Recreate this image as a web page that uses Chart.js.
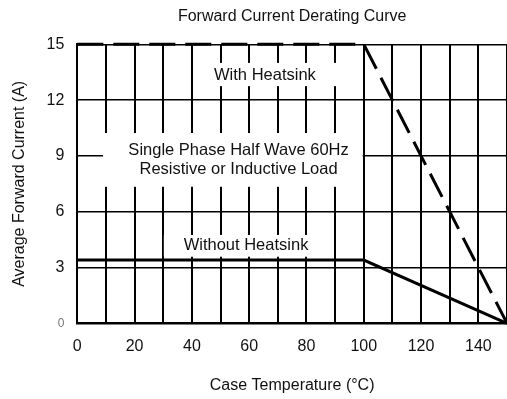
<!DOCTYPE html>
<html>
<head>
<meta charset="utf-8">
<script src="https://cdn.jsdelivr.net/npm/chart.js@4/dist/chart.umd.min.js"></script>
<style>
  html, body { margin: 0; padding: 0; background: #fff; }
  #wrap { width: 507px; height: 399px; }
</style>
</head>
<body>
<div id="wrap"><canvas id="derating" width="507" height="399"></canvas></div>
<script>
// case temperature (°C) at the curve's corners
const temps = [0, 100, 150];
// average forward current (A)
const withHeatsink = [15, 15, 0];
const withoutHeatsink = [3.4, 3.4, 0];

const xTickLabels = [0, 20, 40, 60, 80, 100, 120, 140];
const yTickLabels = [0, 3, 6, 9, 12, 15];

// text written inside the plot, on white boxes (data units)
const notes = [
  { lines: ["With Heatsink"], x: 65.5, y: 13.35, box: [44, 93, 12.75, 14.0] },
  { lines: ["Single Phase Half Wave 60Hz", "Resistive or Inductive Load"], x: 56.3, y: 8.8, box: [9, 99.6, 7.34, 10.23] },
  { lines: ["Without Heatsink"], x: 58.9, y: 4.16, box: [30.2, 89.6, 3.58, 4.75] },
];

const FONT = "'Liberation Sans', Arial, Helvetica, sans-serif";

function toPoints(xs, ys) {
  return xs.map((x, i) => ({ x: x, y: ys[i] }));
}

// white label boxes go over the grid but under the curves
const notesPlugin = {
  id: "notes",
  beforeDatasetsDraw(chart) {
    const ctx = chart.ctx;
    const xs = chart.scales.x;
    const ys = chart.scales.y;
    ctx.save();
    notes.forEach((n) => {
      const l = xs.getPixelForValue(n.box[0]);
      const r = xs.getPixelForValue(n.box[1]);
      const b = ys.getPixelForValue(n.box[2]);
      const t = ys.getPixelForValue(n.box[3]);
      ctx.fillStyle = "#fff";
      ctx.fillRect(l, t, r - l, b - t);

      ctx.fillStyle = "#111";
      ctx.font = "16.5px " + FONT;
      ctx.textAlign = "center";
      ctx.textBaseline = "middle";
      const lh = 19.3;
      const cx = xs.getPixelForValue(n.x);
      const cy = ys.getPixelForValue(n.y);
      const y0 = cy - (lh * (n.lines.length - 1)) / 2;
      n.lines.forEach((s, i) => ctx.fillText(s, cx, y0 + i * lh));
    });
    ctx.restore();
  },
};

new Chart(document.getElementById("derating").getContext("2d"), {
  type: "line",
  data: {
    datasets: [
      {
        label: "With Heatsink",
        data: toPoints(temps, withHeatsink),
        borderColor: "#000",
        borderWidth: 3,
        borderDash: [26, 10],
        pointRadius: 0,
        fill: false,
        tension: 0,
        clip: false,
      },
      {
        label: "Without Heatsink",
        data: toPoints(temps, withoutHeatsink),
        borderColor: "#000",
        borderWidth: 3,
        pointRadius: 0,
        fill: false,
        tension: 0,
        clip: false,
      },
    ],
  },
  options: {
    responsive: false,
    animation: false,
    layout: { padding: 0 },
    plugins: {
      legend: { display: false },
      tooltip: { enabled: false },
      title: {
        display: true,
        text: "Forward Current Derating Curve",
        fullSize: false,
        color: "#111",
        font: { family: FONT, size: 16, weight: "normal" },
        padding: { top: 6.9, bottom: 18.2 },
      },
    },
    scales: {
      x: {
        type: "linear",
        min: 0,
        max: 150,
        afterFit(scale) {
          scale.height = 75.7;
          // plot runs right up to the canvas edge
          scale.paddingLeft = 0;
          scale.paddingRight = 0;
        },
        border: { display: true, color: "#000", width: 2 },
        grid: { color: "#000", lineWidth: 2, drawTicks: false },
        ticks: {
          stepSize: 10,
          autoSkip: false,
          maxRotation: 0,
          padding: 14,
          color: "#111",
          font: { family: FONT, size: 16 },
          callback: (v) => (xTickLabels.includes(v) ? String(v) : ""),
        },
        title: {
          display: true,
          text: "Case Temperature (°C)",
          color: "#111",
          font: { family: FONT, size: 16 },
          padding: { top: 0, bottom: 3.4 },
        },
      },
      y: {
        type: "linear",
        min: 0,
        max: 15,
        afterFit(scale) { scale.width = 77.3; },
        border: { display: true, color: "#000", width: 2 },
        grid: { color: "#000", lineWidth: 1.5, drawTicks: false },
        ticks: {
          stepSize: 3,
          autoSkip: false,
          padding: 13,
          color: (c) => (c.tick && c.tick.value === 0 ? "#777" : "#111"),
          font: (c) => ({ family: FONT, size: c.tick && c.tick.value === 0 ? 12 : 16 }),
          callback: (v) => (yTickLabels.includes(v) ? String(v) : ""),
        },
        title: {
          display: true,
          text: "Average Forward Current (A)",
          color: "#111",
          font: { family: FONT, size: 16 },
          padding: { top: 10, bottom: 0 },
        },
      },
    },
  },
  plugins: [notesPlugin],
});
</script>
</body>
</html>
